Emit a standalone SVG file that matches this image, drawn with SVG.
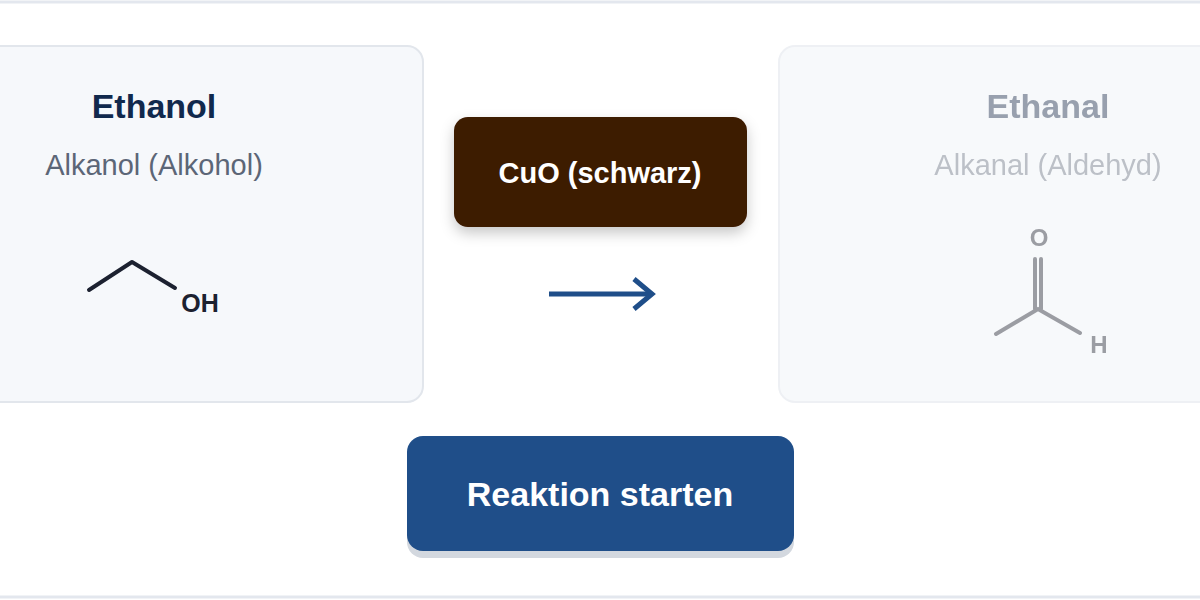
<svg xmlns="http://www.w3.org/2000/svg" width="1200" height="600" viewBox="0 0 1200 600">
<style>
text{font-family:"Liberation Sans",Arial,sans-serif}
.card{fill:#f6f8fb;stroke:#e2e6ec;stroke-width:2}
.t{font-weight:bold;font-size:34px;text-anchor:middle}
.s{font-size:29px;text-anchor:middle}
</style>
<defs>
<filter id="sh" x="-20%" y="-20%" width="140%" height="160%"><feDropShadow dx="0" dy="6" stdDeviation="7" flood-color="#000" flood-opacity="0.22"/></filter>
</defs>
<rect width="1200" height="600" fill="#fff"/>
<line x1="0" y1="2" x2="1200" y2="2" stroke="#e3e7ee" stroke-width="3"/>
<line x1="0" y1="597" x2="1200" y2="597" stroke="#e3e7ee" stroke-width="3"/>
<g id="ethanol">
<rect class="card" x="-20" y="46" width="443" height="356" rx="16"/>
<text class="t" x="154" y="118" fill="#11294d">Ethanol</text>
<text class="s" x="154" y="175" fill="#5c6677">Alkanol (Alkohol)</text>
<polyline points="89,290 132,262 175,288" fill="none" stroke="#1c2130" stroke-width="4" stroke-linecap="round" stroke-linejoin="round"/>
<text x="200" y="312" font-size="25" font-weight="bold" text-anchor="middle" fill="#1c2130">OH</text>
</g>
<g id="ethanal" opacity="0.88">
<rect x="779" y="46" width="450" height="356" rx="16" fill="#f7f9fb" stroke="#eceff3" stroke-width="2"/>
<text class="t" x="1048" y="118" fill="#8a94a3">Ethanal</text>
<text class="s" x="1048" y="175" fill="#b3b8c0">Alkanal (Aldehyd)</text>
<g stroke="#8e9097" stroke-width="4" stroke-linecap="round" fill="none">
<polyline points="996,334 1038,309 1080,333"/>
<line x1="1035" y1="309" x2="1035" y2="259"/>
<line x1="1041" y1="309" x2="1041" y2="259"/>
</g>
<text x="1039" y="246" font-size="24" font-weight="bold" text-anchor="middle" fill="#8e9097">O</text>
<text x="1099" y="353" font-size="24" font-weight="bold" text-anchor="middle" fill="#8e9097">H</text>
</g>
<g id="cuo">
<rect x="454" y="117" width="293" height="110" rx="14" fill="#3d1a03" filter="url(#sh)"/>
<text x="600" y="183" font-size="29" font-weight="bold" text-anchor="middle" fill="#fff">CuO (schwarz)</text>
</g>
<g id="connectors">
<line x1="549" y1="294" x2="650" y2="294" stroke="#1f4e89" stroke-width="5"/>
<polyline points="634,279 652,294 634,309" fill="none" stroke="#1f4e89" stroke-width="5" stroke-linejoin="miter"/>
</g>
<g id="button">
<rect x="407" y="443" width="387" height="115" rx="16" fill="#d3d8df"/>
<rect x="407" y="436" width="387" height="115" rx="16" fill="#1f4e89"/>
<text x="600" y="506" font-size="34" font-weight="bold" text-anchor="middle" fill="#fff">Reaktion starten</text>
</g>
</svg>
